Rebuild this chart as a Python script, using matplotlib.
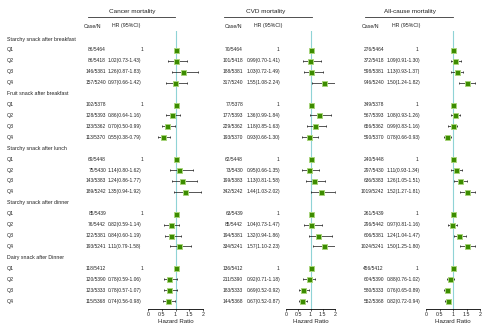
import numpy as np
import matplotlib
matplotlib.use("Agg")
import matplotlib.pyplot as plt

plt.rcParams['font.family'] = ['Liberation Sans', 'DejaVu Sans']

# snack groups, each with quartiles Q1..Q4 (Q1 = reference)
groups = ["Starchy snack after breakfast", "Fruit snack after breakfast",
          "Starchy snack after lunch", "Starchy snack after dinner",
          "Dairy snack after Dinner"]
quarts = ["Q1", "Q2", "Q3", "Q4"]

# cancer mortality
cancer_cases = ["86/5464", "86/5418", "146/5381", "157/5240",
                "102/5378", "128/5393", "133/5362", "113/5370",
                "69/5448", "75/5430", "143/5383", "189/5242",
                "85/5439", "76/5442", "122/5381", "193/5241",
                "118/5412", "120/5390", "123/5333", "115/5368"]
cancer_hr = [1, 1.02, 1.26, 0.97, 1, 0.86, 0.70, 0.55, 1, 1.14, 1.24, 1.35,
             1, 0.82, 0.84, 1.11, 1, 0.78, 0.78, 0.74]
cancer_lo = [1, 0.73, 0.87, 0.66, 1, 0.64, 0.50, 0.38, 1, 0.80, 0.86, 0.94,
             1, 0.59, 0.60, 0.79, 1, 0.59, 0.57, 0.56]
cancer_hi = [1, 1.43, 1.83, 1.42, 1, 1.16, 0.99, 0.79, 1, 1.62, 1.77, 1.92,
             1, 1.14, 1.19, 1.58, 1, 1.06, 1.07, 0.98]

# CVD mortality
cvd_cases = ["70/5464", "101/5418", "188/5381", "317/5240",
             "77/5378", "177/5393", "229/5362", "193/5370",
             "62/5448", "73/5430", "199/5383", "342/5242",
             "63/5439", "85/5442", "194/5381", "334/5241",
             "136/5412", "211/5390", "183/5333", "144/5368"]
cvd_hr = [1, 0.99, 1.03, 1.55, 1, 1.36, 1.18, 0.93, 1, 0.95, 1.13, 1.44,
          1, 1.04, 1.32, 1.57, 1, 0.92, 0.69, 0.67]
cvd_lo = [1, 0.70, 0.72, 1.08, 1, 0.99, 0.85, 0.66, 1, 0.66, 0.81, 1.03,
          1, 0.73, 0.94, 1.10, 1, 0.71, 0.52, 0.52]
cvd_hi = [1, 1.41, 1.49, 2.24, 1, 1.84, 1.63, 1.30, 1, 1.35, 1.58, 2.02,
          1, 1.47, 1.86, 2.23, 1, 1.18, 0.92, 0.87]

# all-cause mortality
all_cases = ["276/5464", "372/5418", "598/5381", "946/5240",
             "349/5378", "567/5393", "656/5362", "590/5370",
             "240/5448", "297/5430", "636/5383", "1019/5242",
             "261/5439", "296/5442", "606/5381", "1024/5241",
             "456/5412", "604/5390", "580/5333", "552/5368"]
all_hr = [1, 1.09, 1.13, 1.50, 1, 1.08, 0.99, 0.78, 1, 1.11, 1.26, 1.52,
          1, 0.97, 1.24, 1.50, 1, 0.88, 0.76, 0.82]
all_lo = [1, 0.91, 0.93, 1.24, 1, 0.93, 0.83, 0.66, 1, 0.93, 1.05, 1.27,
          1, 0.81, 1.04, 1.25, 1, 0.76, 0.65, 0.72]
all_hi = [1, 1.30, 1.37, 1.82, 1, 1.26, 1.16, 0.93, 1, 1.34, 1.51, 1.81,
          1, 1.16, 1.47, 1.80, 1, 1.02, 0.89, 0.94]

panels = [
    dict(title="Cancer mortality", cases=cancer_cases, hr=cancer_hr, lo=cancer_lo, hi=cancer_hi,
         ax_x=(148, 203), case_x=106, hr_x=108, one_x=141.5, head=(92.5, 126), tx=132, line=(88, 175)),
    dict(title="CVD mortality", cases=cvd_cases, hr=cvd_hr, lo=cvd_lo, hi=cvd_hi,
         ax_x=(286, 335), case_x=243, hr_x=246.5, one_x=278, head=(233, 268), tx=266, line=(224, 312)),
    dict(title="All-cause mortality", cases=all_cases, hr=all_hr, lo=all_lo, hi=all_hi,
         ax_x=(426, 480), case_x=384, hr_x=386.5, one_x=417, head=(370, 406), tx=410, line=(365, 453)),
]

W, H = 490, 331
fig = plt.figure(figsize=(W / 100, H / 100), dpi=100)
bg = fig.add_axes([0, 0, 1, 1])
bg.set_xlim(0, W)
bg.set_ylim(H, 0)
bg.axis("off")

y0, dy = 39, 10.92          # pixel y of first row, row spacing
top_px, axis_px = 31, 309    # forest panel extent
fs = 3.5
tc = "#222222"

def row_y(r):
    return y0 + dy * r

# left column labels
rows_q = []
for g, name in enumerate(groups):
    bg.text(7, row_y(g * 5), name, fontsize=3.8, va="center", ha="left", color=tc)
    for k, q in enumerate(quarts):
        r = g * 5 + 1 + k
        rows_q.append(r)
        bg.text(7, row_y(r), q, fontsize=3.8, va="center", ha="left", color=tc)
rows_q = np.array(rows_q)

for p in panels:
    # headers
    bg.text(p["tx"], 12, p["title"], fontsize=4.6, ha="center", va="center", color=tc)
    bg.plot(p["line"], [16.5, 16.5], color="#333333", lw=0.6)
    bg.text(p["head"][0], 26, "Case/N", fontsize=3.8, ha="center", va="center", color=tc)
    bg.text(p["head"][1], 26, "HR (95%CI)", fontsize=3.8, ha="center", va="center", color=tc)

    hr = np.array(p["hr"])
    lo = np.array(p["lo"])
    hi = np.array(p["hi"])
    for i, r in enumerate(rows_q):
        bg.text(p["case_x"], row_y(r), p["cases"][i], fontsize=fs, ha="right", va="center", color=tc)
        if i % 4 == 0:
            bg.text(p["one_x"], row_y(r), "1", fontsize=fs, ha="center", va="center", color=tc)
        else:
            bg.text(p["hr_x"], row_y(r), "%.2f(%.2f-%.2f)" % (hr[i], lo[i], hi[i]),
                    fontsize=fs, ha="left", va="center", color=tc)

    # forest panel
    x0, x1 = p["ax_x"]
    ax = fig.add_axes([x0 / W, (H - axis_px) / H, (x1 - x0) / W, (axis_px - top_px) / H])
    ax.patch.set_alpha(0)
    ax.set_xlim(0, 2)
    ax.set_ylim((axis_px - y0) / dy, (top_px - y0) / dy)
    ax.axvline(1, color="#8fd3d6", lw=0.8, zorder=1)
    ref = np.arange(len(hr)) % 4 == 0
    ax.errorbar(hr[~ref], rows_q[~ref], xerr=[hr[~ref] - lo[~ref], hi[~ref] - hr[~ref]],
                fmt="none", ecolor="#111111", elinewidth=0.5, capsize=0.9, capthick=0.5, zorder=2)
    ax.plot(hr, rows_q, "s", ms=3.6, mfc="#3c8c00", mec="#a8d47c", mew=0.7, zorder=3)
    for s in ["top", "right", "left"]:
        ax.spines[s].set_visible(False)
    ax.spines["bottom"].set_linewidth(0.6)
    ax.set_yticks([])
    ax.set_xticks([0, 0.5, 1, 1.5, 2])
    ax.set_xticklabels(["0", "0.5", "1", "1.5", "2"])
    ax.tick_params(axis="x", labelsize=3.8, length=1.5, width=0.5, pad=1, colors=tc)
    ax.set_xlabel("Hazard Ratio", fontsize=4.4, labelpad=1, color=tc)

fig.savefig("out.png", dpi=100)
